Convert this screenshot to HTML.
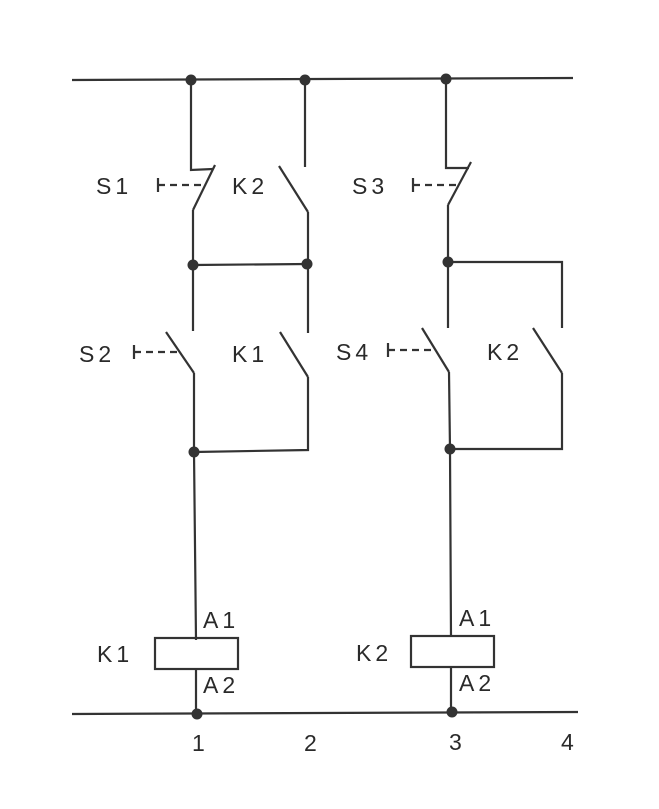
<!DOCTYPE html>
<html><head><style>
body{margin:0;background:#fff}
svg{display:block}
text{font-family:"Liberation Sans",sans-serif;font-size:23px;fill:#2a2a2a;letter-spacing:4px}
</style></head><body>
<svg width="659" height="809" viewBox="0 0 659 809">
<g stroke="#333" stroke-width="2.2" fill="none">
<line x1="72" y1="80" x2="573" y2="78"/>
<line x1="72" y1="714" x2="578" y2="712"/>
<polyline points="191,80 191,170 213,169"/>
<line x1="215" y1="165" x2="193" y2="210"/>
<line x1="193" y1="210" x2="193" y2="331"/>
<line x1="158" y1="185" x2="203" y2="185" stroke-dasharray="7,5"/>
<line x1="158" y1="178" x2="158" y2="192"/>
<line x1="305" y1="80" x2="305" y2="167"/>
<line x1="279" y1="166" x2="308" y2="212"/>
<line x1="308" y1="212" x2="308" y2="333"/>
<line x1="193" y1="265" x2="308" y2="264"/>
<line x1="166" y1="332" x2="194" y2="373"/>
<polyline points="194,373 194,452 196,640"/>
<line x1="134" y1="352" x2="178" y2="352" stroke-dasharray="7,5"/>
<line x1="134" y1="345" x2="134" y2="359"/>
<line x1="280" y1="332" x2="308" y2="377"/>
<polyline points="308,377 308,450 194,452"/>
<polyline points="446,80 446,168 469,168"/>
<line x1="471" y1="162" x2="448" y2="205"/>
<line x1="448" y1="205" x2="448" y2="328"/>
<line x1="413" y1="185" x2="458" y2="185" stroke-dasharray="7,5"/>
<line x1="413" y1="178" x2="413" y2="192"/>
<polyline points="448,262 562,262 562,328"/>
<line x1="422" y1="328" x2="449" y2="372"/>
<polyline points="449,372 450,450 451,637"/>
<line x1="388" y1="350" x2="432" y2="350" stroke-dasharray="7,5"/>
<line x1="388" y1="343" x2="388" y2="357"/>
<line x1="533" y1="328" x2="562" y2="373"/>
<polyline points="562,373 562,449 451,449"/>
<rect x="155" y="638" width="83" height="31"/>
<rect x="411" y="636" width="83" height="31"/>
<line x1="196" y1="669" x2="196" y2="714"/>
<line x1="451" y1="667" x2="451" y2="712"/>
</g>
<g fill="#333">
<circle cx="191" cy="80" r="5.5"/><circle cx="305" cy="80" r="5.5"/><circle cx="446" cy="79" r="5.5"/>
<circle cx="193" cy="265" r="5.5"/><circle cx="307" cy="264" r="5.5"/><circle cx="448" cy="262" r="5.5"/>
<circle cx="194" cy="452" r="5.5"/><circle cx="450" cy="449" r="5.5"/>
<circle cx="197" cy="714" r="5.5"/><circle cx="452" cy="712" r="5.5"/>
</g>
<text x="96" y="194">S1</text>
<text x="232" y="194">K2</text>
<text x="352" y="194">S3</text>
<text x="79" y="362">S2</text>
<text x="232" y="362">K1</text>
<text x="336" y="360">S4</text>
<text x="487" y="360">K2</text>
<text x="97" y="662">K1</text>
<text x="356" y="661">K2</text>
<text x="203" y="628">A1</text>
<text x="203" y="693">A2</text>
<text x="459" y="626">A1</text>
<text x="459" y="691">A2</text>
<text x="192" y="751">1</text>
<text x="304" y="751">2</text>
<text x="449" y="750">3</text>
<text x="561" y="750">4</text>
</svg>
</body></html>
